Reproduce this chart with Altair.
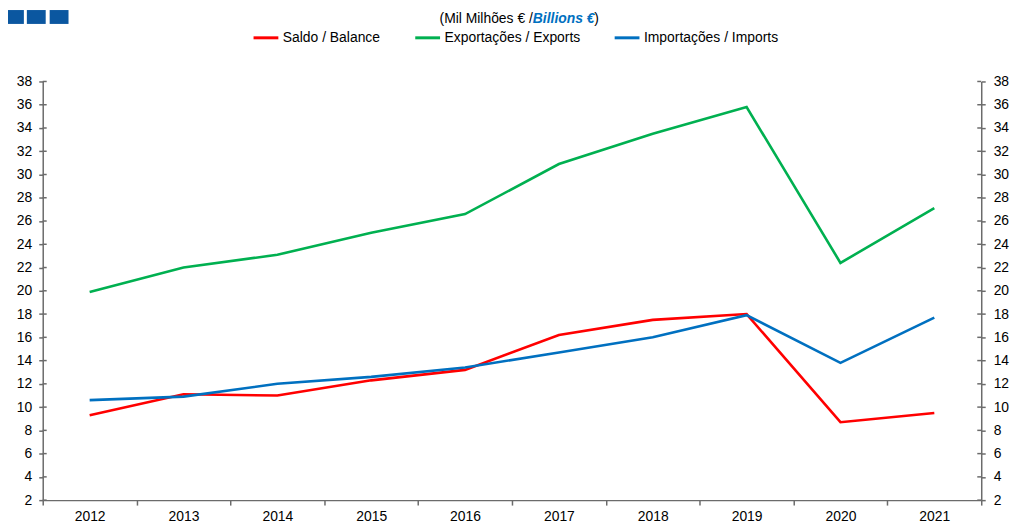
import altair as alt
import pandas as pd

years = [str(y) for y in range(2012, 2022)]
balance = [9.3, 11.1, 11.0, 12.3, 13.2, 16.2, 17.5, 18.0, 8.7, 9.5]
exports = [19.9, 22.0, 23.1, 25.0, 26.6, 30.9, 33.5, 35.8, 22.4, 27.1]
imports = [10.6, 10.9, 12.0, 12.6, 13.4, 14.7, 16.0, 17.9, 13.8, 17.7]
series_names = ["Saldo / Balance", "Exportações / Exports", "Importações / Imports"]
series_colors = ["#ff0000", "#00b050", "#0070c0"]
y_ticks = list(range(2, 40, 2))
subtitle_a = "(Mil Milhões € /\u00a0"
subtitle_b = "Billions €"
subtitle_c = ")"

rows = []
for name, vals in zip(series_names, [balance, exports, imports]):
    for yr, v in zip(years, vals):
        rows.append({"year": yr, "series": name, "value": v})
df = pd.DataFrame(rows)
ticks_df = pd.DataFrame({"value": y_ticks})
one = pd.DataFrame({"k": [0]})

W, H = 946, 422
FONT = "Liberation Sans"
AX = "#6b6b6b"

xscale = alt.Scale(domain=years, paddingInner=0, paddingOuter=0)
yscale = alt.Scale(domain=[2, 38], nice=False, zero=False)

xaxis = alt.Axis(tickBand="extent", labelAngle=0, labelFontSize=14, labelFont=FONT,
                 labelColor="#000000", domainColor=AX, tickColor=AX, domainWidth=1.5,
                 tickWidth=1.5, tickSize=5, labelPadding=5, grid=False)
yaxis_left = alt.Axis(values=y_ticks, orient="left", labelFontSize=14, labelFont=FONT,
                      labelColor="#000000", domainColor=AX, tickColor=AX, domainWidth=1.5,
                      tickWidth=1.5, tickSize=4, labelPadding=7, grid=False)
yaxis_right = alt.Axis(values=y_ticks, orient="right", labelFontSize=14, labelFont=FONT,
                       labelColor="#000000", domainColor=AX, tickColor=AX, domainWidth=1.5,
                       tickWidth=1.5, tickSize=4, labelPadding=8, grid=False)

lines = alt.Chart(df).mark_line(strokeWidth=2.6).encode(
    x=alt.X("year:O", scale=xscale, sort=years, title=None, axis=xaxis),
    y=alt.Y("value:Q", scale=yscale, title=None, axis=yaxis_left),
    color=alt.Color("series:N", scale=alt.Scale(domain=series_names, range=series_colors),
                    legend=alt.Legend(title=None, orient="none", legendX=211, legendY=-58,
                                      direction="horizontal", symbolType="stroke",
                                      symbolStrokeWidth=3, symbolSize=625,
                                      labelFontSize=14, labelFont=FONT, labelColor="#000000",
                                      columnPadding=28, labelOffset=3)),
)

left_ticks = alt.Chart(ticks_df).mark_rule(color=AX, strokeWidth=1.5).encode(
    x=alt.value(0), x2=alt.value(4),
    y=alt.Y("value:Q", scale=yscale, title=None, axis=yaxis_left),
)

right_ticks = alt.Chart(ticks_df).mark_rule(color=AX, strokeWidth=1.5).encode(
    x=alt.value(W - 4), x2=alt.value(W),
    y=alt.Y("value:Q", scale=yscale, title=None, axis=yaxis_right),
)

sub_a = alt.Chart(one).mark_text(text=subtitle_a, align="right", baseline="middle",
                                 fontSize=14, font=FONT, color="#000000").encode(
    x=alt.value(494), y=alt.value(-63))
sub_b = alt.Chart(one).mark_text(text=subtitle_b, align="left", baseline="middle",
                                 fontSize=14, font=FONT, fontWeight="bold", fontStyle="italic",
                                 color="#0070c0").encode(
    x=alt.value(494), y=alt.value(-63))
sub_c = alt.Chart(one).mark_text(text=subtitle_c, align="left", baseline="middle",
                                 fontSize=14, font=FONT, color="#000000").encode(
    x=alt.value(556), y=alt.value(-63))

squares = alt.Chart(pd.DataFrame({"x0": [-38, -16, 7]})).mark_rect(color="#0b57a0").encode(
    x=alt.X("x0:Q", scale=None), x2=alt.X2("x1:Q"),
    y=alt.value(-72), y2=alt.value(-58),
).transform_calculate(x1="datum.x0 + 19")

left = alt.layer(lines, left_ticks)
chart = alt.layer(left, right_ticks, sub_a, sub_b, sub_c, squares).resolve_scale(
    y="independent"
).properties(
    width=W, height=H,
    autosize=alt.AutoSizeParams(type="none"),
    padding={"left": 35, "top": 72, "right": 30, "bottom": 22},
).configure_view(stroke=None)

chart.save("out.html", embed_options={"renderer": "svg", "actions": False})
